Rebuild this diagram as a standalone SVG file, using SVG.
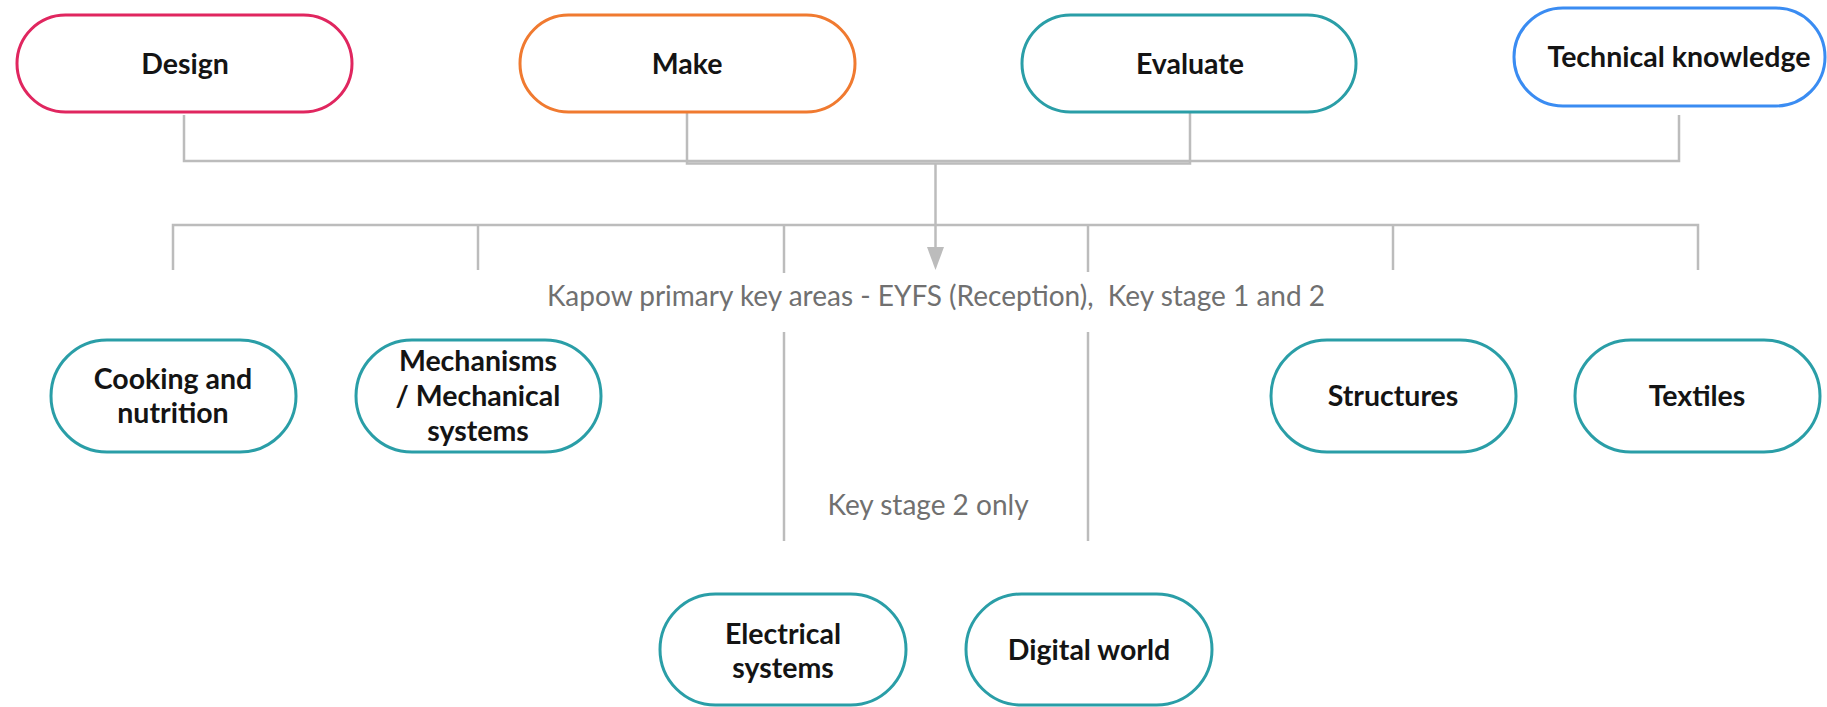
<svg xmlns="http://www.w3.org/2000/svg" width="1827" height="707" viewBox="0 0 1827 707">
<defs>
<style>
.box{fill:#fff;stroke-width:3}
.teal{stroke:#2a9ea7}
.t{font-family:Lato,"Noto Sans","Liberation Sans",sans-serif;font-weight:bold;font-size:28.5px;fill:#141414;text-anchor:middle}
.lbl{font-family:Lato,"Noto Sans","Liberation Sans",sans-serif;font-size:28px;fill:#707070;text-anchor:middle;white-space:pre}
.c{fill:none;stroke:#bcbcbc;stroke-width:2.5}
</style>
</defs>
<rect width="1827" height="707" fill="#fff"/>
<g id="connectors">
<path class="c" d="M184 115 V161 H1679 V115"/>
<path class="c" d="M687 112 V163.5 H1190 V112"/>
<path class="c" d="M173 270 V225 H1698 V270"/>
<path class="c" d="M478 225 V270"/>
<path class="c" d="M784 225 V273"/>
<path class="c" d="M1088 225 V272"/>
<path class="c" d="M1393 225 V270"/>
<path class="c" d="M784 332 V541"/>
<path class="c" d="M1088 332 V541"/>
<path class="c" d="M935.5 163 V250"/>
<polygon points="927,247 944,247 935.5,270" fill="#bcbcbc"/>
</g>
<g id="design"><rect class="box" x="17" y="15" width="335" height="97" rx="48.5" stroke="#e0265f"/><text class="t" x="185" y="74">Design</text></g>
<g id="make"><rect class="box" x="520" y="15" width="335" height="97" rx="48.5" stroke="#f07a30"/><text class="t" x="687" y="74">Make</text></g>
<g id="evaluate"><rect class="box teal" x="1022" y="15" width="334" height="97" rx="48.5"/><text class="t" x="1190" y="74">Evaluate</text></g>
<g id="technical"><rect class="box" x="1514" y="8" width="311" height="98" rx="49" stroke="#3a8cf2"/><text class="t" x="1679" y="67">Technical knowledge</text></g>
<text id="label-key-areas" class="lbl" x="936" y="306" xml:space="preserve">Kapow primary key areas - EYFS (Reception),  Key stage 1 and 2</text>
<text id="label-ks2" class="lbl" x="928" y="515">Key stage 2 only</text>
<g id="cooking"><rect class="box teal" x="51" y="340" width="245" height="112" rx="56"/><text class="t" x="173" y="389">Cooking and</text><text class="t" x="173" y="423">nutrition</text></g>
<g id="mechanisms"><rect class="box teal" x="356" y="340" width="245" height="112" rx="56"/><text class="t" x="478" y="371">Mechanisms</text><text class="t" x="478" y="406">/ Mechanical</text><text class="t" x="478" y="441">systems</text></g>
<g id="structures"><rect class="box teal" x="1271" y="340" width="245" height="112" rx="56"/><text class="t" x="1393" y="406">Structures</text></g>
<g id="textiles"><rect class="box teal" x="1575" y="340" width="245" height="112" rx="56"/><text class="t" x="1697" y="406">Textiles</text></g>
<g id="electrical"><rect class="box teal" x="660" y="594" width="246" height="111" rx="55.5"/><text class="t" x="783" y="644">Electrical</text><text class="t" x="783" y="678">systems</text></g>
<g id="digital"><rect class="box teal" x="966" y="594" width="246" height="111" rx="55.5"/><text class="t" x="1089" y="660">Digital world</text></g>
</svg>
